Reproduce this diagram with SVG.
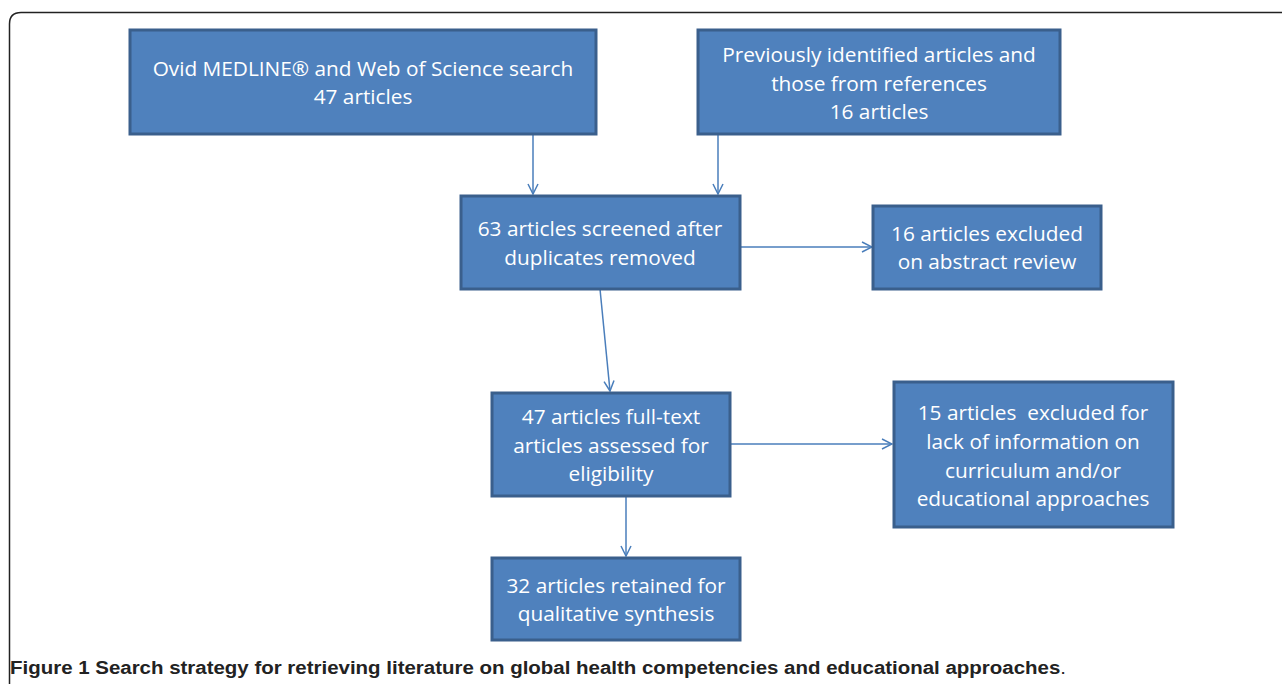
<svg xmlns="http://www.w3.org/2000/svg" width="1282" height="684" viewBox="0 0 1282 684">
<defs>
<style>
.box{fill:#4F81BD;stroke:#3A5F8C;stroke-width:3}
.t{fill:#FFFFFF;font-family:"Open Sans","Liberation Sans",sans-serif;font-size:20.8px;text-anchor:middle}
.c{stroke:#4A7EBB;stroke-width:1.5;fill:none}
.cap{font-family:"Liberation Sans",sans-serif;font-size:18px;fill:#222}
</style>
<marker id="ah" viewBox="0 0 12 12" refX="11" refY="6" markerWidth="12" markerHeight="12" markerUnits="userSpaceOnUse" orient="auto">
<path d="M1,1 L11,6 L1,11" fill="none" stroke="#4A7EBB" stroke-width="1.5"/>
</marker>
</defs>
<rect width="1282" height="684" fill="#FFFFFF"/>
<path d="M9.5,684 V24 Q9.5,12.5 21,12.5 H1282" fill="none" stroke="#222" stroke-width="1.5"/>
<g id="connectors">
<line class="c" x1="533" y1="135" x2="533" y2="194" marker-end="url(#ah)"/>
<line class="c" x1="718" y1="135" x2="718" y2="194" marker-end="url(#ah)"/>
<line class="c" x1="740" y1="247" x2="872" y2="247" marker-end="url(#ah)"/>
<line class="c" x1="600" y1="289" x2="610" y2="391" marker-end="url(#ah)"/>
<line class="c" x1="730" y1="444" x2="892" y2="444" marker-end="url(#ah)"/>
<line class="c" x1="626" y1="496" x2="626" y2="556" marker-end="url(#ah)"/>
</g>
<g id="n1">
<rect class="box" x="130" y="30" width="466" height="104"/>
<text class="t" x="363" y="76">Ovid MEDLINE® and Web of Science search</text>
<text class="t" x="363" y="104">47 articles</text>
</g>
<g id="n2">
<rect class="box" x="698" y="30" width="362" height="104"/>
<text class="t" x="879" y="62">Previously identified articles and</text>
<text class="t" x="879" y="91">those from references</text>
<text class="t" x="879" y="119">16 articles</text>
</g>
<g id="n3">
<rect class="box" x="461" y="196" width="279" height="93"/>
<text class="t" x="600" y="236">63 articles screened after</text>
<text class="t" x="600" y="265">duplicates removed</text>
</g>
<g id="n4">
<rect class="box" x="873" y="206" width="228" height="83"/>
<text class="t" x="987" y="241">16 articles excluded</text>
<text class="t" x="987" y="269">on abstract review</text>
</g>
<g id="n5">
<rect class="box" x="492" y="393" width="238" height="103"/>
<text class="t" x="611" y="424">47 articles full-text</text>
<text class="t" x="611" y="453">articles assessed for</text>
<text class="t" x="611" y="481">eligibility</text>
</g>
<g id="n6">
<rect class="box" x="894" y="382" width="279" height="145"/>
<text class="t" x="1033" y="420" xml:space="preserve">15 articles  excluded for</text>
<text class="t" x="1033" y="449">lack of information on</text>
<text class="t" x="1033" y="478">curriculum and/or</text>
<text class="t" x="1033" y="506">educational approaches</text>
</g>
<g id="n7">
<rect class="box" x="492" y="558" width="248" height="82"/>
<text class="t" x="616" y="593">32 articles retained for</text>
<text class="t" x="616" y="621">qualitative synthesis</text>
</g>
<text class="cap" x="10" y="674" font-weight="bold" textLength="1056" lengthAdjust="spacingAndGlyphs">Figure 1 Search strategy for retrieving literature on global health competencies and educational approaches<tspan font-weight="normal">.</tspan></text>
</svg>
